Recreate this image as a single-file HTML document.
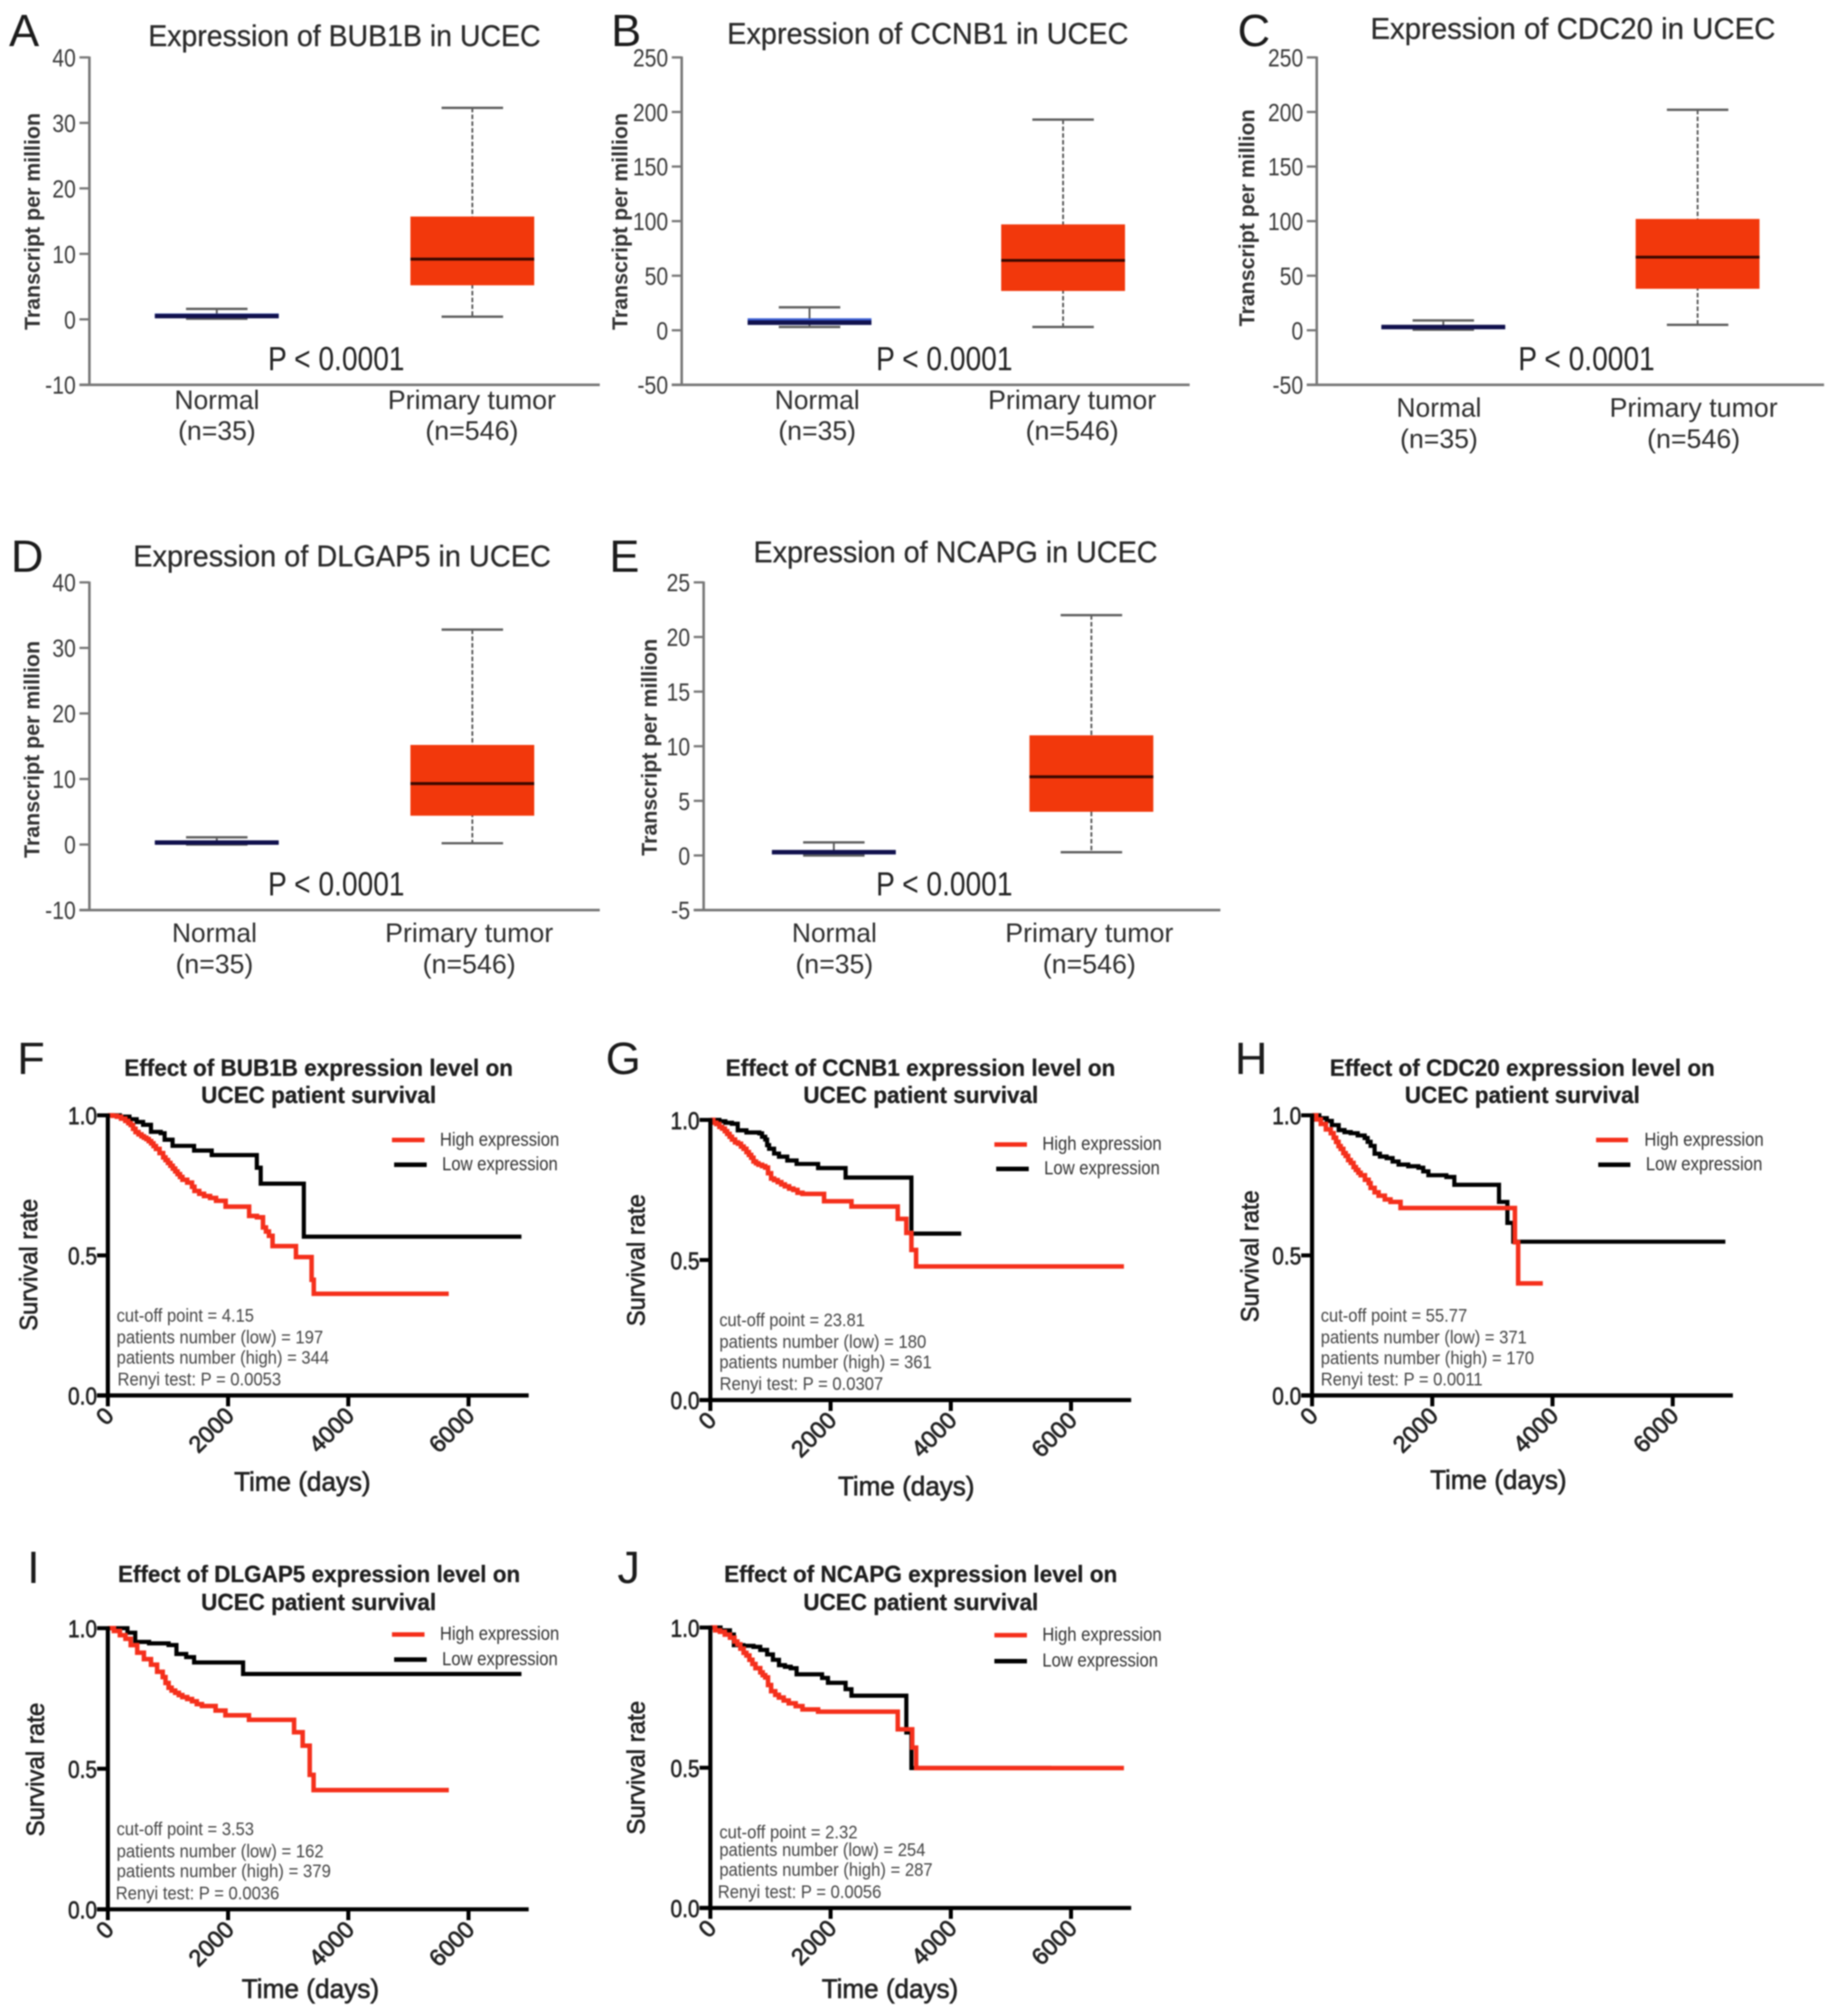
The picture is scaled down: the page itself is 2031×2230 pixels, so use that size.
<!DOCTYPE html>
<html lang="en">
<head>
<meta charset="utf-8">
<title>Expression and survival charts in UCEC</title>
<style>
html,body{margin:0;padding:0;background:#fff;width:2031px;height:2230px;overflow:hidden}
svg{display:block;filter:blur(0.7px)}
text{font-family:"Liberation Sans",Arial,sans-serif}
.letter{font-size:50px;fill:#1c1c1c}
.btitle{font-size:33px;fill:#2a2a2a;stroke:#2a2a2a;stroke-width:.3}
.cat{font-size:30px;fill:#2e2e2e;text-anchor:middle}
.pval{font-size:37px;fill:#222;text-anchor:middle}
.ytitle{font-size:24px;font-weight:bold;fill:#333;text-anchor:middle}
.stitle{font-size:26px;font-weight:bold;fill:#1e1e1e;stroke:#1e1e1e;stroke-width:.3;text-anchor:middle}
.sy{font-size:28px;fill:#222;stroke:#222;stroke-width:.7;text-anchor:middle}
.sx{font-size:30px;fill:#222;stroke:#222;stroke-width:.7;text-anchor:middle}
.info{font-size:20px;fill:#444}
.leg{font-size:21px;fill:#333}
</style>
</head>
<body>
<svg id="figure" xmlns="http://www.w3.org/2000/svg" width="2031" height="2230" viewBox="0 0 2031 2230">
<rect x="0" y="0" width="2031" height="2230" fill="#fff"/>

<!-- Panel A -->
<g>
<text class="letter" x="10" y="51">A</text>
<text class="btitle" x="164" y="51" textLength="434" lengthAdjust="spacingAndGlyphs">Expression of BUB1B in UCEC</text>
<text class="ytitle" transform="translate(44 245) rotate(-90)" textLength="240" lengthAdjust="spacingAndGlyphs">Transcript per million</text>
<text class="pval" x="372" y="409.5" textLength="151" lengthAdjust="spacingAndGlyphs">P &lt; 0.0001</text>
<text class="cat" x="240" y="452.7" textLength="94" lengthAdjust="spacingAndGlyphs">Normal</text>
<text class="cat" x="240" y="486.5" textLength="86" lengthAdjust="spacingAndGlyphs">(n=35)</text>
<text class="cat" x="522" y="452.7" textLength="186" lengthAdjust="spacingAndGlyphs">Primary tumor</text>
<text class="cat" x="522" y="486.5" textLength="103" lengthAdjust="spacingAndGlyphs">(n=546)</text>
</g>
<!-- Panel B -->
<g>
<text class="letter" x="676" y="51">B</text>
<text class="btitle" x="804.4" y="48.3" textLength="444" lengthAdjust="spacingAndGlyphs">Expression of CCNB1 in UCEC</text>
<text class="ytitle" transform="translate(694 245) rotate(-90)" textLength="240" lengthAdjust="spacingAndGlyphs">Transcript per million</text>
<text class="pval" x="1044.6" y="409.5" textLength="151" lengthAdjust="spacingAndGlyphs">P &lt; 0.0001</text>
<text class="cat" x="904" y="452.7" textLength="94" lengthAdjust="spacingAndGlyphs">Normal</text>
<text class="cat" x="904" y="486.5" textLength="86" lengthAdjust="spacingAndGlyphs">(n=35)</text>
<text class="cat" x="1186" y="452.7" textLength="186" lengthAdjust="spacingAndGlyphs">Primary tumor</text>
<text class="cat" x="1186" y="486.5" textLength="103" lengthAdjust="spacingAndGlyphs">(n=546)</text>
</g>
<!-- Panel C -->
<g>
<text class="letter" x="1369" y="51">C</text>
<text class="btitle" x="1516" y="43.2" textLength="448" lengthAdjust="spacingAndGlyphs">Expression of CDC20 in UCEC</text>
<text class="ytitle" transform="translate(1387.5 241) rotate(-90)" textLength="240" lengthAdjust="spacingAndGlyphs">Transcript per million</text>
<text class="pval" x="1755" y="409.5" textLength="151" lengthAdjust="spacingAndGlyphs">P &lt; 0.0001</text>
<text class="cat" x="1591.8" y="461" textLength="94" lengthAdjust="spacingAndGlyphs">Normal</text>
<text class="cat" x="1591.8" y="495.6" textLength="86" lengthAdjust="spacingAndGlyphs">(n=35)</text>
<text class="cat" x="1873.5" y="461" textLength="186" lengthAdjust="spacingAndGlyphs">Primary tumor</text>
<text class="cat" x="1873.5" y="495.6" textLength="103" lengthAdjust="spacingAndGlyphs">(n=546)</text>
</g>
<!-- Panel D -->
<g>
<text class="letter" x="12" y="632.4">D</text>
<text class="btitle" x="147.4" y="626.3" textLength="462" lengthAdjust="spacingAndGlyphs">Expression of DLGAP5 in UCEC</text>
<text class="ytitle" transform="translate(43.4 829) rotate(-90)" textLength="240" lengthAdjust="spacingAndGlyphs">Transcript per million</text>
<text class="pval" x="372" y="990.5" textLength="151" lengthAdjust="spacingAndGlyphs">P &lt; 0.0001</text>
<text class="cat" x="237.2" y="1041.8" textLength="94" lengthAdjust="spacingAndGlyphs">Normal</text>
<text class="cat" x="237.2" y="1076.6" textLength="86" lengthAdjust="spacingAndGlyphs">(n=35)</text>
<text class="cat" x="519" y="1041.8" textLength="186" lengthAdjust="spacingAndGlyphs">Primary tumor</text>
<text class="cat" x="519" y="1076.6" textLength="103" lengthAdjust="spacingAndGlyphs">(n=546)</text>
</g>
<!-- Panel E -->
<g>
<text class="letter" x="674" y="632.4">E</text>
<text class="btitle" x="833.5" y="622" textLength="447" lengthAdjust="spacingAndGlyphs">Expression of NCAPG in UCEC</text>
<text class="ytitle" transform="translate(726.5 826.6) rotate(-90)" textLength="240" lengthAdjust="spacingAndGlyphs">Transcript per million</text>
<text class="pval" x="1044.6" y="990.5" textLength="151" lengthAdjust="spacingAndGlyphs">P &lt; 0.0001</text>
<text class="cat" x="923" y="1041.8" textLength="94" lengthAdjust="spacingAndGlyphs">Normal</text>
<text class="cat" x="923" y="1076.6" textLength="86" lengthAdjust="spacingAndGlyphs">(n=35)</text>
<text class="cat" x="1205" y="1041.8" textLength="186" lengthAdjust="spacingAndGlyphs">Primary tumor</text>
<text class="cat" x="1205" y="1076.6" textLength="103" lengthAdjust="spacingAndGlyphs">(n=546)</text>
</g>

<!-- Panel F -->
<g>
<text class="letter" x="19" y="1188">F</text>
<text class="stitle" x="352.5" y="1190" textLength="430" lengthAdjust="spacingAndGlyphs">Effect of BUB1B expression level on</text>
<text class="stitle" x="352.5" y="1220" textLength="260" lengthAdjust="spacingAndGlyphs">UCEC patient survival</text>
<text class="sy" transform="translate(41 1399) rotate(-90)" textLength="146" lengthAdjust="spacingAndGlyphs">Survival rate</text>
<text class="sx" x="334.5" y="1649" textLength="151" lengthAdjust="spacingAndGlyphs">Time (days)</text>
<text class="info" x="129" y="1462" textLength="152" lengthAdjust="spacingAndGlyphs">cut-off point = 4.15</text>
<text class="info" x="129" y="1486" textLength="228.5" lengthAdjust="spacingAndGlyphs">patients number (low) = 197</text>
<text class="info" x="129" y="1508.5" textLength="235" lengthAdjust="spacingAndGlyphs">patients number (high) = 344</text>
<text class="info" x="130" y="1532.5" textLength="181" lengthAdjust="spacingAndGlyphs">Renyi test: P = 0.0053</text>
<line x1="433.6" x2="469.6" y1="1261" y2="1261" stroke="#f5301c" stroke-width="5"/>
<text class="leg" x="486.6" y="1267.4" textLength="132" lengthAdjust="spacingAndGlyphs">High expression</text>
<line x1="436" x2="472" y1="1288.4" y2="1288.4" stroke="#000" stroke-width="5"/>
<text class="leg" x="489" y="1294.6" textLength="128" lengthAdjust="spacingAndGlyphs">Low expression</text>
</g>
<!-- Panel G -->
<g>
<text class="letter" x="670" y="1188">G</text>
<text class="stitle" x="1018.3" y="1190" textLength="431" lengthAdjust="spacingAndGlyphs">Effect of CCNB1 expression level on</text>
<text class="stitle" x="1018.6" y="1220" textLength="260" lengthAdjust="spacingAndGlyphs">UCEC patient survival</text>
<text class="sy" transform="translate(713 1394) rotate(-90)" textLength="146" lengthAdjust="spacingAndGlyphs">Survival rate</text>
<text class="sx" x="1002.5" y="1654" textLength="151" lengthAdjust="spacingAndGlyphs">Time (days)</text>
<text class="info" x="795.7" y="1467" textLength="161" lengthAdjust="spacingAndGlyphs">cut-off point = 23.81</text>
<text class="info" x="795.7" y="1491" textLength="229" lengthAdjust="spacingAndGlyphs">patients number (low) = 180</text>
<text class="info" x="795.7" y="1513.6" textLength="235" lengthAdjust="spacingAndGlyphs">patients number (high) = 361</text>
<text class="info" x="796" y="1537.7" textLength="181" lengthAdjust="spacingAndGlyphs">Renyi test: P = 0.0307</text>
<line x1="1100" x2="1136" y1="1266" y2="1266" stroke="#f5301c" stroke-width="5"/>
<text class="leg" x="1153" y="1272" textLength="132" lengthAdjust="spacingAndGlyphs">High expression</text>
<line x1="1102" x2="1138" y1="1293" y2="1293" stroke="#000" stroke-width="5"/>
<text class="leg" x="1155" y="1299" textLength="128" lengthAdjust="spacingAndGlyphs">Low expression</text>
</g>
<!-- Panel H -->
<g>
<text class="letter" x="1366" y="1188">H</text>
<text class="stitle" x="1684" y="1190" textLength="426" lengthAdjust="spacingAndGlyphs">Effect of CDC20 expression level on</text>
<text class="stitle" x="1684" y="1220" textLength="260" lengthAdjust="spacingAndGlyphs">UCEC patient survival</text>
<text class="sy" transform="translate(1392 1389.6) rotate(-90)" textLength="146" lengthAdjust="spacingAndGlyphs">Survival rate</text>
<text class="sx" x="1657.5" y="1647" textLength="151" lengthAdjust="spacingAndGlyphs">Time (days)</text>
<text class="info" x="1461" y="1462" textLength="162" lengthAdjust="spacingAndGlyphs">cut-off point = 55.77</text>
<text class="info" x="1461" y="1486" textLength="228" lengthAdjust="spacingAndGlyphs">patients number (low) = 371</text>
<text class="info" x="1461" y="1509" textLength="236" lengthAdjust="spacingAndGlyphs">patients number (high) = 170</text>
<text class="info" x="1461" y="1532.6" textLength="179" lengthAdjust="spacingAndGlyphs">Renyi test: P = 0.0011</text>
<line x1="1765.6" x2="1801" y1="1261" y2="1261" stroke="#f5301c" stroke-width="5"/>
<text class="leg" x="1819" y="1267.4" textLength="132" lengthAdjust="spacingAndGlyphs">High expression</text>
<line x1="1768" x2="1803.5" y1="1288.4" y2="1288.4" stroke="#000" stroke-width="5"/>
<text class="leg" x="1820.6" y="1294.6" textLength="129" lengthAdjust="spacingAndGlyphs">Low expression</text>
</g>
<!-- Panel I -->
<g>
<text class="letter" x="30" y="1751">I</text>
<text class="stitle" x="353" y="1750" textLength="445" lengthAdjust="spacingAndGlyphs">Effect of DLGAP5 expression level on</text>
<text class="stitle" x="352.5" y="1781" textLength="260" lengthAdjust="spacingAndGlyphs">UCEC patient survival</text>
<text class="sy" transform="translate(48.6 1957.4) rotate(-90)" textLength="148" lengthAdjust="spacingAndGlyphs">Survival rate</text>
<text class="sx" x="343.4" y="2210" textLength="152" lengthAdjust="spacingAndGlyphs">Time (days)</text>
<text class="info" x="129" y="2030" textLength="152" lengthAdjust="spacingAndGlyphs">cut-off point = 3.53</text>
<text class="info" x="129" y="2054.7" textLength="229" lengthAdjust="spacingAndGlyphs">patients number (low) = 162</text>
<text class="info" x="129" y="2076.7" textLength="237" lengthAdjust="spacingAndGlyphs">patients number (high) = 379</text>
<text class="info" x="128" y="2101" textLength="181" lengthAdjust="spacingAndGlyphs">Renyi test: P = 0.0036</text>
<line x1="433.6" x2="469.6" y1="1808" y2="1808" stroke="#f5301c" stroke-width="5"/>
<text class="leg" x="486.6" y="1814" textLength="132" lengthAdjust="spacingAndGlyphs">High expression</text>
<line x1="436" x2="472" y1="1835.8" y2="1835.8" stroke="#000" stroke-width="5"/>
<text class="leg" x="489" y="1842" textLength="128" lengthAdjust="spacingAndGlyphs">Low expression</text>
</g>
<!-- Panel J -->
<g>
<text class="letter" x="683" y="1751">J</text>
<text class="stitle" x="1018.5" y="1750" textLength="435" lengthAdjust="spacingAndGlyphs">Effect of NCAPG expression level on</text>
<text class="stitle" x="1018.6" y="1781" textLength="260" lengthAdjust="spacingAndGlyphs">UCEC patient survival</text>
<text class="sy" transform="translate(713 1955.4) rotate(-90)" textLength="148" lengthAdjust="spacingAndGlyphs">Survival rate</text>
<text class="sx" x="984.5" y="2210" textLength="151" lengthAdjust="spacingAndGlyphs">Time (days)</text>
<text class="info" x="795.7" y="2033.4" textLength="153" lengthAdjust="spacingAndGlyphs">cut-off point = 2.32</text>
<text class="info" x="795.7" y="2053" textLength="228" lengthAdjust="spacingAndGlyphs">patients number (low) = 254</text>
<text class="info" x="795.7" y="2075" textLength="236" lengthAdjust="spacingAndGlyphs">patients number (high) = 287</text>
<text class="info" x="794" y="2099.3" textLength="181" lengthAdjust="spacingAndGlyphs">Renyi test: P = 0.0056</text>
<line x1="1100" x2="1136" y1="1808.8" y2="1808.8" stroke="#f5301c" stroke-width="5"/>
<text class="leg" x="1153" y="1815" textLength="132" lengthAdjust="spacingAndGlyphs">High expression</text>
<line x1="1100" x2="1136" y1="1837.5" y2="1837.5" stroke="#000" stroke-width="5"/>
<text class="leg" x="1153" y="1843.5" textLength="128" lengthAdjust="spacingAndGlyphs">Low expression</text>
</g>
</svg>

<script>
// ---------- Box plot data: [upper whisker, Q3, median, Q1, lower whisker] ----------
const bub1bNormal = [1.6, 0.9, 0.5, 0.2, 0.1];
const bub1bTumor = [32.3, 15.7, 9.2, 5.2, 0.4];
const ccnb1Normal = [21, 11, 7, 5, 3];
const ccnb1Tumor = [193, 97, 64, 36, 3];
const cdc20Normal = [9, 4, 3, 1.5, 0.5];
const cdc20Tumor = [202, 102, 67, 38, 5];
const dlgap5Normal = [1.1, 0.5, 0.3, 0.1, 0];
const dlgap5Tumor = [32.8, 15.2, 9.3, 4.4, 0.2];
const ncapgNormal = [1.2, 0.4, 0.3, 0.1, 0];
const ncapgTumor = [22, 11, 7.2, 4, 0.3];

const tickLabelsA = [-10, 0, 10, 20, 30, 40];
const tickLabelsB = [-50, 0, 50, 100, 150, 200, 250];
const tickLabelsC = [-50, 0, 50, 100, 150, 200, 250];
const tickLabelsD = [-10, 0, 10, 20, 30, 40];
const tickLabelsE = [-5, 0, 5, 10, 15, 20, 25];

// ---------- Survival data: step curves ----------
const survivalXTicks = [0, 2000, 4000, 6000];
const survivalYTicks = [0, 0.5, 1];
const survivalYLabels = ['0.0', '0.5', '1.0'];

const bub1bHighDays = [0,80,150,220,290,340,380,420,460,510,560,600,640,680,720,760,800,860,920,960,1000,1040,1080,1120,1160,1200,1240,1320,1400,1440,1520,1600,1700,1800,1960,2350,2480,2580,2630,2680,2740,3130,3390,3425,5670];
const bub1bHighSurvival = [1,.998,.995,.988,.98,.972,.965,.952,.94,.932,.925,.92,.915,.908,.9,.89,.88,.865,.85,.84,.83,.82,.81,.8,.79,.78,.77,.76,.745,.73,.72,.712,.705,.695,.674,.641,.636,.6,.585,.57,.533,.494,.413,.363,.363];
const bub1bLowDays = [0,200,359,480,587,717,880,945,1076,1434,1728,2478,2543,3260,6879];
const bub1bLowSurvival = [1,.995,.986,.976,.966,.941,.936,.913,.891,.874,.858,.813,.756,.567,.567];

const ccnb1HighDays = [0,50,100,150,196,240,280,320,359,410,460,510,554,600,640,680,717,760,800,860,913,960,1011,1060,1120,1180,1239,1310,1380,1450,1532,1891,2347,3117,3260,3345,3423,6879];
const ccnb1HighSurvival = [1,.99,.985,.975,.969,.96,.95,.94,.93,.92,.915,.905,.897,.885,.875,.865,.852,.845,.84,.835,.83,.81,.791,.785,.778,.77,.763,.755,.75,.74,.736,.71,.691,.647,.597,.536,.477,.477];
const ccnb1LowDays = [0,150,250,359,456,600,815,860,913,945,978,1060,1141,1280,1434,1793,2249,3345,4173];
const ccnb1LowSurvival = [1,.995,.99,.986,.963,.955,.952,.94,.93,.91,.897,.88,.869,.855,.843,.828,.794,.594,.594];

const cdc20HighDays = [0,70,146,230,312,360,400,440,477,520,560,600,643,690,730,770,809,880,941,975,1040,1107,1210,1306,1472,3375,3428,3839];
const cdc20HighSurvival = [1,.985,.969,.95,.936,.92,.905,.89,.88,.865,.855,.84,.83,.815,.805,.795,.786,.77,.758,.741,.725,.713,.7,.691,.669,.547,.4,.4];
const cdc20LowDays = [0,120,245,330,444,540,643,760,875,925,975,1041,1130,1240,1340,1439,1600,1770,1850,1936,2234,2367,3110,3249,3348,6875];
const cdc20LowSurvival = [1,.99,.98,.965,.947,.94,.936,.928,.919,.905,.891,.863,.853,.847,.835,.824,.818,.813,.8,.786,.78,.752,.691,.616,.549,.549];

const dlgap5HighDays = [0,100,200,293,380,489,600,717,820,913,960,1011,1060,1120,1180,1239,1320,1400,1480,1565,1793,1956,2347,3097,3240,3358,3423,5672];
const dlgap5HighSurvival = [1,.99,.975,.962,.94,.913,.89,.87,.845,.826,.805,.788,.778,.77,.762,.755,.748,.74,.73,.723,.707,.69,.674,.63,.582,.478,.424,.424];
const dlgap5LowDays = [0,326,456,685,1011,1141,1304,1434,2249,6879];
const dlgap5LowSurvival = [1,.984,.951,.946,.94,.908,.897,.878,.837,.837];

const ncapgHighDays = [0,80,160,240,326,400,450,500,554,600,650,700,750,830,870,913,960,1011,1080,1140,1220,1304,1420,1532,1793,3117,3358,3423,6879];
const ncapgHighSurvival = [1,.99,.985,.975,.964,.95,.94,.925,.91,.9,.885,.87,.855,.84,.83,.822,.795,.773,.76,.75,.74,.73,.72,.708,.7,.637,.572,.499,.499];
const ncapgLowDays = [0,170,326,391,550,717,830,945,1040,1141,1240,1337,1434,1858,1956,2249,2347,3260,3345,5672];
const ncapgLowSurvival = [1,.99,.975,.937,.935,.931,.92,.904,.885,.866,.86,.855,.833,.82,.803,.78,.757,.626,.499,.499];

// ---------- Drawing ----------
const svg = document.getElementById('figure');
const NS = 'http://www.w3.org/2000/svg';

function mk(tag, parent, name, attrs) {
  const el = document.createElementNS(NS, tag);
  
  
  for (const k in attrs) el.setAttribute(k, attrs[k]);
  parent.appendChild(el);
  return el;
}
function seg(parent, name, x1, y1, x2, y2, color, width, dash) {
  const attrs = { x1: x1, y1: y1, x2: x2, y2: y2, stroke: color, 'stroke-width': width };
  if (dash) attrs['stroke-dasharray'] = dash;
  return mk('line', parent, name, attrs);
}

function drawBoxPanel(id, p) {
  const g = mk('g', svg, 'box-plot-' + id, {});
  const ticks = p.ticks;
  const lo = ticks[0], hi = ticks[ticks.length - 1];
  const y = v => p.bottom - (v - lo) / (hi - lo) * (p.bottom - p.top);
  const axisColor = '#777';
  seg(g, 'y-axis-' + id, p.left, p.top - 1, p.left, p.bottom + 1, axisColor, 2.8);
  seg(g, 'x-axis-' + id, p.left - 11, p.bottom, p.right, p.bottom, axisColor, 2.8);
  ticks.forEach(t => {
    seg(g, 'y-tick-' + id, p.left - 11, y(t), p.left, y(t), axisColor, 2.5);
    const s = String(t);
    const digits = s.replace('-', '').length;
    const w = digits * 13 + (t < 0 ? 8 : 0);
    const lab = mk('text', g, 'y-tick-label-' + id, {
      x: p.left - 15, y: y(t) + 10, 'text-anchor': 'end', 'font-size': 28, fill: '#3a3a3a',
      textLength: w, lengthAdjust: 'spacingAndGlyphs'
    });
    lab.textContent = s;
  });
  drawBox(g, 'normal-' + id, p.normalX, p.normal, y, '#3f62d6', '#12124e', 5);
  drawBox(g, 'tumor-' + id, p.tumorX, p.tumor, y, '#f2380c', '#3a0800', 3.2);
}

function drawBox(g, name, cx, v, y, fill, medColor, medW) {
  const boxHalf = 68.5, capHalf = 34;
  const dash = name.indexOf('tumor') === 0 ? '5 2.5' : null;
  seg(g, 'whisker-' + name, cx, y(v[0]), cx, y(v[4]), '#555', 2, dash);
  seg(g, 'cap-high-' + name, cx - capHalf, y(v[0]), cx + capHalf, y(v[0]), '#5e5e5e', 2.6);
  seg(g, 'cap-low-' + name, cx - capHalf, y(v[4]), cx + capHalf, y(v[4]), '#5e5e5e', 2.6);
  mk('rect', g, 'box-' + name, {
    x: cx - boxHalf, y: y(v[1]), width: boxHalf * 2, height: Math.max(y(v[3]) - y(v[1]), 1), fill: fill
  });
  seg(g, 'median-' + name, cx - boxHalf, y(v[2]), cx + boxHalf, y(v[2]), medColor, medW);
}

drawBoxPanel('a', { left: 98.9, top: 63.5, bottom: 425.7, right: 663.5, normalX: 239.8, tumorX: 522.5, ticks: tickLabelsA, normal: bub1bNormal, tumor: bub1bTumor });
drawBoxPanel('b', { left: 754.1, top: 63.5, bottom: 425.7, right: 1316, normalX: 895.5, tumorX: 1176, ticks: tickLabelsB, normal: ccnb1Normal, tumor: ccnb1Tumor });
drawBoxPanel('c', { left: 1456.6, top: 63.5, bottom: 425.7, right: 2017.8, normalX: 1596.6, tumorX: 1877.9, ticks: tickLabelsC, normal: cdc20Normal, tumor: cdc20Tumor });
drawBoxPanel('d', { left: 98.9, top: 644.2, bottom: 1006.7, right: 663.5, normalX: 239.8, tumorX: 522.5, ticks: tickLabelsD, normal: dlgap5Normal, tumor: dlgap5Tumor });
drawBoxPanel('e', { left: 778.4, top: 644.2, bottom: 1006.7, right: 1350, normalX: 922.4, tumorX: 1207.3, ticks: tickLabelsE, normal: ncapgNormal, tumor: ncapgTumor });

function stepPath(days, surv, x, y) {
  let d = 'M' + x(days[0]) + ' ' + y(surv[0]);
  for (let i = 1; i < days.length; i++) {
    d += 'H' + x(days[i]).toFixed(1) + 'V' + y(surv[i]).toFixed(1);
  }
  return d;
}

function drawSurvival(id, p) {
  const g = mk('g', svg, 'survival-plot-' + id, {});
  const pxPerDay = 0.0665;
  const x = d => p.left + d * pxPerDay;
  const y = s => p.y0 - s * (p.y0 - p.y1);
  mk('path', g, 'low-expression-curve-' + id, {
    d: stepPath(p.lowDays, p.lowSurv, x, y), fill: 'none', stroke: '#000', 'stroke-width': 4.6
  });
  mk('path', g, 'high-expression-curve-' + id, {
    d: stepPath(p.highDays, p.highSurv, x, y), fill: 'none', stroke: '#f5301c', 'stroke-width': 5
  });
  seg(g, 'y-axis-' + id, p.left, p.y1 - 2, p.left, p.y0 + 2, '#000', 4.6);
  seg(g, 'x-axis-' + id, p.left - 12, p.y0, x(7000), p.y0, '#000', 4.6);
  survivalYTicks.forEach((t, i) => {
    seg(g, 'y-tick-' + id, p.left - 12, y(t), p.left, y(t), '#000', 4.4);
    const lab = mk('text', g, 'y-tick-label-' + id, {
      x: p.left - 12, y: y(t) + 10, 'text-anchor': 'end', 'font-size': 27, fill: '#222',
      stroke: '#222', 'stroke-width': 0.7, textLength: 32, lengthAdjust: 'spacingAndGlyphs'
    });
    lab.textContent = survivalYLabels[i];
  });
  survivalXTicks.forEach(t => {
    seg(g, 'x-tick-' + id, x(t), p.y0, x(t), p.y0 + 12, '#000', 4.4);
    const lab = mk('text', g, 'x-tick-label-' + id, {
      transform: 'translate(' + (x(t) + 8) + ' ' + (p.y0 + 24) + ') rotate(-45)',
      'text-anchor': 'end', 'font-size': 26, fill: '#222', stroke: '#222', 'stroke-width': 0.8
    });
    lab.textContent = String(t);
  });
}

drawSurvival('f', { left: 119.3, y1: 1233.7, y0: 1543.6, highDays: bub1bHighDays, highSurv: bub1bHighSurvival, lowDays: bub1bLowDays, lowSurv: bub1bLowSurvival });
drawSurvival('g', { left: 785.8, y1: 1238.8, y0: 1548.7, highDays: ccnb1HighDays, highSurv: ccnb1HighSurvival, lowDays: ccnb1LowDays, lowSurv: ccnb1LowSurvival });
drawSurvival('h', { left: 1451.4, y1: 1233.7, y0: 1543.6, highDays: cdc20HighDays, highSurv: cdc20HighSurvival, lowDays: cdc20LowDays, lowSurv: cdc20LowSurvival });
drawSurvival('i', { left: 119.3, y1: 1801, y0: 2112, highDays: dlgap5HighDays, highSurv: dlgap5HighSurvival, lowDays: dlgap5LowDays, lowSurv: dlgap5LowSurvival });
drawSurvival('j', { left: 785.8, y1: 1800.3, y0: 2110.5, highDays: ncapgHighDays, highSurv: ncapgHighSurvival, lowDays: ncapgLowDays, lowSurv: ncapgLowSurvival });
</script>
</body>
</html>
